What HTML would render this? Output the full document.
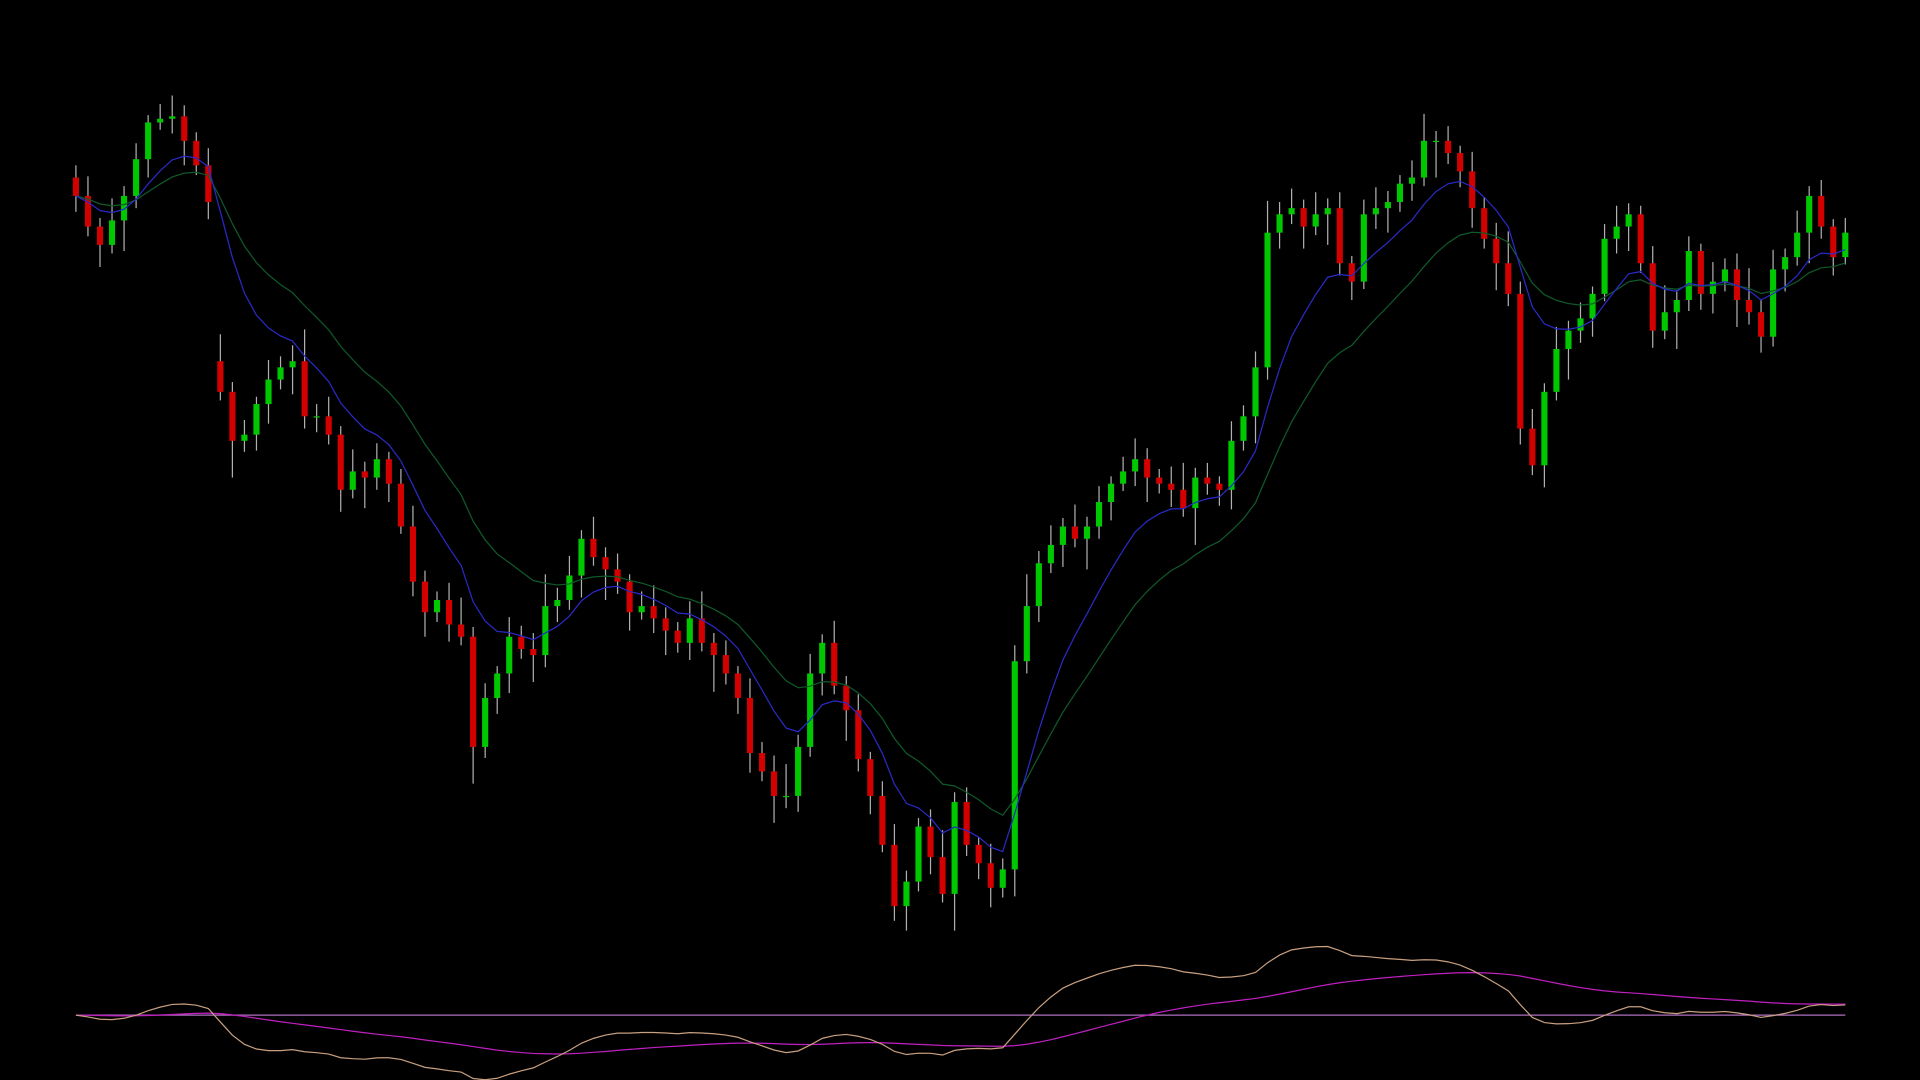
<!DOCTYPE html>
<html><head><meta charset="utf-8"><style>
html,body{margin:0;padding:0;background:#000;width:1920px;height:1080px;overflow:hidden}
svg{display:block}
</style></head><body>
<svg id="chart" width="1920" height="1080" viewBox="0 0 1568 882" xmlns="http://www.w3.org/2000/svg">
<rect width="1568" height="882" fill="#000"/>
<g id="candles"></g>
<g id="mas"></g>
<g id="osc"></g>
</svg>
<script>
const closes=[640,615,600,620,640,670,700,703,705,685,665,635,480,440,445,470,490,500,505,460,460,445,400,415,410,425,405,370,325,300,310,290,280,190,230,250,280,270,265,305,310,330,360,345,335,325,300,305,295,285,275,295,275,265,250,230,185,170,150,150,190,250,275,240,220,180,150,110,60,80,125,100,70,145,110,95,75,90,260,305,340,355,370,360,370,390,405,415,425,410,405,400,385,410,405,400,440,460,500,610,625,630,615,625,630,585,570,625,630,635,650,655,685,685,675,660,630,605,585,560,450,420,480,515,530,540,560,605,615,625,585,530,545,555,595,560,570,580,555,545,525,580,590,610,640,615,590,610];
const gapOpens={12:505};
const wickHi=[10,16,7,18,8,13,6,12,17,9,7,14,22,8,12,6,16,9,13,26];
const wickLo=[13,8,18,7,25,10,15,6,12,20,8,14,7,30,9,13,16,8,22,10];
const N=closes.length;
const xScale=i=>62+i*(1445/(N-1));
const yScale=p=>800-p;
const NS='http://www.w3.org/2000/svg';
const cg=document.getElementById('candles');
function mk(tag,attrs,parent){const e=document.createElementNS(NS,tag);for(const k in attrs)e.setAttribute(k,attrs[k]);parent.appendChild(e);return e;}
for(let i=0;i<N;i++){
  const c=closes[i];
  const o=(i in gapOpens)?gapOpens[i]:(i===0?c+15:closes[i-1]);
  const hi=Math.max(o,c)+wickHi[i%wickHi.length];
  const lo=Math.min(o,c)-wickLo[i%wickLo.length];
  const x=xScale(i);
  const w=mk('line',{x1:x,x2:x,y1:yScale(hi),y2:yScale(lo),stroke:'#b0b0b0','stroke-width':1},cg);
  
  
  const up=c>=o;
  const top=yScale(Math.max(o,c)),h=Math.max(1,Math.abs(o-c));
  const b=mk('rect',{x:x-2.5,y:top,width:5,height:h,fill:up?'#00c800':'#d40000'},cg);
  
  
}
function ema(arr,n){const k=2/(n+1);const out=[];let v=arr[0];for(let i=0;i<arr.length;i++){v=i?arr[i]*k+v*(1-k):arr[i];out.push(v);}return out;}
const fast=ema(closes,9),slow=ema(closes,18);
const mg=document.getElementById('mas');
function path(arr,yf){return arr.map((v,i)=>(i?'L':'M')+xScale(i).toFixed(1)+','+yf(v).toFixed(1)).join('');}
const p1=mk('path',{d:path(slow,yScale),fill:'none',stroke:'#0f5a2a','stroke-width':1},mg);


const p2=mk('path',{d:path(fast,yScale),fill:'none',stroke:'#2a2ac8','stroke-width':1},mg);


// oscillator
const e1=ema(closes,10),e2=ema(closes,24);
const macd=closes.map((_,i)=>e1[i]-e2[i]);
const sig=ema(macd,35);
const mx=Math.max(...macd.map(Math.abs));
const oy=v=>829-v/mx*56;
const og=document.getElementById('osc');
const base=mk('line',{x1:62,x2:1507,y1:829,y2:829,stroke:'#b070c0','stroke-width':1},og);


const s=mk('path',{d:path(sig,oy),fill:'none',stroke:'#c020c0','stroke-width':1},og);


const m=mk('path',{d:path(macd,oy),fill:'none',stroke:'#c8a080','stroke-width':1},og);


</script>
</body></html>
